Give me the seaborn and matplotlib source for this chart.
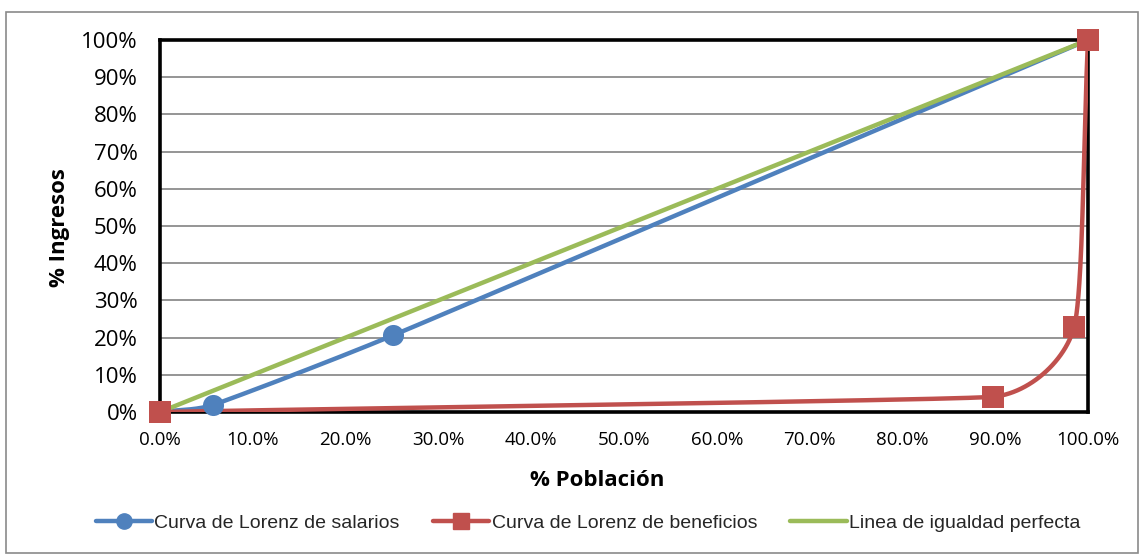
import numpy as np
import matplotlib
matplotlib.use("Agg")
import matplotlib.pyplot as plt
from matplotlib.patches import Rectangle
from matplotlib.lines import Line2D
from matplotlib.ticker import FuncFormatter
import seaborn as sns

# Lorenz curve data (share of population vs share of income)
pob_salarios = [0.0, 0.057, 0.251, 1.0]
ing_salarios = [0.0, 0.019, 0.206, 1.0]
pob_beneficios = [0.0, 0.898, 0.985, 1.0]
ing_beneficios = [0.0, 0.041, 0.228, 1.0]
pob_igualdad = [0.0, 1.0]
ing_igualdad = [0.0, 1.0]

nombres = ["Curva de Lorenz de salarios",
           "Curva de Lorenz de beneficios",
           "Linea de igualdad perfecta"]
x_ticks = [i / 10 for i in range(11)]
y_ticks = [i / 10 for i in range(11)]

AZUL, ROJO, VERDE = "#4F81BD", "#C0504D", "#9BBB59"
ANCHO_PX, ALTO_PX = 928.0, 372.0  # size of the plotting area in pixels


def suavizar(x, y, n=80):
    """Smoothed line through the points: cubic Bezier segments whose control
    points follow the neighbour tangent (computed in screen space)."""
    p = np.column_stack([np.asarray(x) * ANCHO_PX, np.asarray(y) * ALTO_PX])
    longs = np.linalg.norm(np.diff(p, axis=0), axis=1)
    pts = [p[0]]
    for i in range(len(p) - 1):
        p0 = p[i - 1] if i > 0 else p[i]
        p1, p2 = p[i], p[i + 1]
        p3 = p[i + 2] if i + 2 < len(p) else p[i + 1]
        d = longs[i]
        d_prev = longs[i - 1] if i > 0 else d
        d_next = longs[i + 1] if i + 1 < len(longs) else d
        t1 = (p2 - p0) / np.linalg.norm(p2 - p0)
        t2 = (p3 - p1) / np.linalg.norm(p3 - p1)
        c1 = p1 + t1 * min(d, d_prev) / 3.0
        c2 = p2 - t2 * min(d, d_next) / 3.0
        t = np.linspace(0, 1, n)[1:, None]
        seg = ((1 - t) ** 3) * p1 + 3 * ((1 - t) ** 2) * t * c1 \
            + 3 * (1 - t) * t ** 2 * c2 + t ** 3 * p2
        pts.extend(seg)
    pts = np.array(pts)
    xs = np.clip(pts[:, 0] / ANCHO_PX, 0, max(x))
    ys = np.clip(pts[:, 1] / ALTO_PX, 0, max(y))
    return xs, ys


sns.set_theme(style="white")
plt.rcParams["font.family"] = ["Liberation Sans", "DejaVu Sans"]
TICK_FONT = ["Open Sans", "DejaVu Sans"]

fig = plt.figure(figsize=(11.42, 5.55), dpi=100)
ax = fig.add_axes([160 / 1142, 1 - 412 / 555, 928 / 1142, 372 / 555])

# horizontal gridlines
for yv in y_ticks[1:]:
    ax.axhline(yv, color="#8c8c8c", lw=1.3, zorder=0)

xs, ys = suavizar(pob_salarios, ing_salarios)
sns.lineplot(x=xs, y=ys, sort=False, estimator=None, color=AZUL, lw=3.2, ax=ax, zorder=3)
xr, yr = suavizar(pob_beneficios, ing_beneficios)
sns.lineplot(x=xr, y=yr, sort=False, estimator=None, color=ROJO, lw=3.2, ax=ax, zorder=4)
sns.lineplot(x=pob_igualdad, y=ing_igualdad, sort=False, estimator=None,
             color=VERDE, lw=3.2, ax=ax, zorder=5)

sns.scatterplot(x=pob_salarios[1:3], y=ing_salarios[1:3], color=AZUL, marker="o",
                s=230, linewidth=0, ax=ax, zorder=6, clip_on=False)
sns.scatterplot(x=pob_beneficios, y=ing_beneficios, color=ROJO, marker="s",
                s=260, linewidth=0, ax=ax, zorder=7, clip_on=False)

ax.set_xlim(0, 1)
ax.set_ylim(0, 1)
ax.set_xticks(x_ticks)
ax.set_yticks(y_ticks)
ax.xaxis.set_major_formatter(FuncFormatter(lambda v, _: f"{v * 100:.1f}%"))
ax.yaxis.set_major_formatter(FuncFormatter(lambda v, _: f"{v * 100:.0f}%"))
ax.tick_params(axis="x", labelsize=13.5, pad=14, length=0)
ax.tick_params(axis="y", labelsize=16, pad=16, length=0)
for lab in ax.get_xticklabels() + ax.get_yticklabels():
    lab.set_family(TICK_FONT)
    lab.set_color("black")

for sp in ax.spines.values():
    sp.set_visible(True)
    sp.set_color("black")
    sp.set_linewidth(2.6)
    sp.set_zorder(2)

ax.set_xlabel("% Población", fontsize=16, fontweight="bold", family=TICK_FONT,
              color="black")
ax.set_ylabel("% Ingresos", fontsize=16, fontweight="bold", family=TICK_FONT,
              color="black")
ax.xaxis.set_label_coords((597 - 160) / 928, -(480 - 412) / 372)
ax.yaxis.set_label_coords(-(160 - 60) / 928, (412 - 228) / 372)
ax.xaxis.label.set_va("center")
ax.yaxis.label.set_va("center")

handles = [
    Line2D([0], [0], color=AZUL, lw=3.2, marker="o", markersize=11),
    Line2D([0], [0], color=ROJO, lw=3.2, marker="s", markersize=12),
    Line2D([0], [0], color=VERDE, lw=3.2),
]
fig.legend(handles, nombres, loc="center", bbox_to_anchor=(588 / 1142, 1 - 523 / 555),
           ncol=3, frameon=False, fontsize=14, handlelength=2.9,
           handletextpad=0.12, columnspacing=1.7)

# outer chart frame
fig.patches.append(Rectangle((6 / 1142, 2 / 555), 1132 / 1142, 541 / 555,
                             transform=fig.transFigure, fill=False,
                             edgecolor="#8a8a8a", lw=1.2))

fig.savefig("out.png", dpi=100)
